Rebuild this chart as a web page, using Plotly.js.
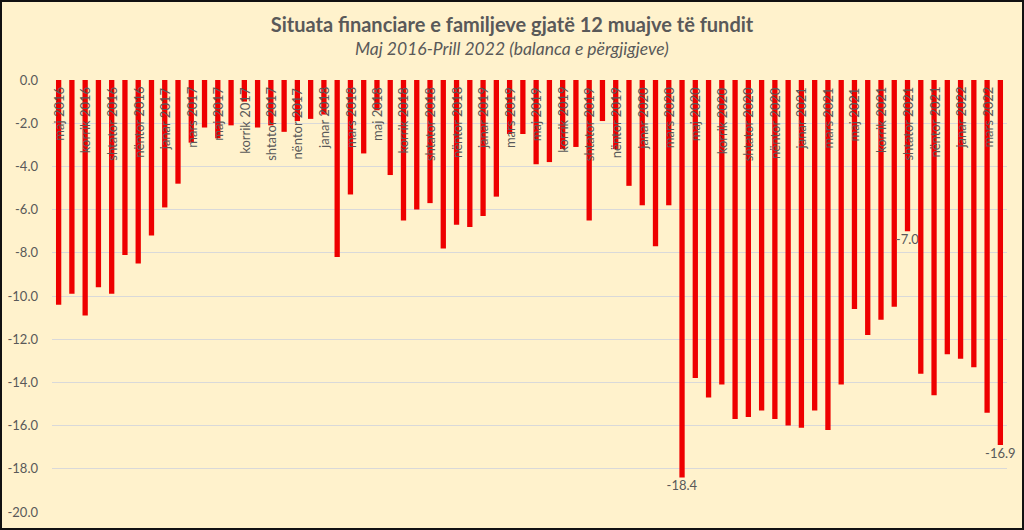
<!DOCTYPE html>
<html>
<head>
<meta charset="utf-8">
<script src="https://cdn.plot.ly/plotly-3.0.1.min.js"></script>
<style>
html,body{margin:0;padding:0;background:#FFF2CC;}
#chart{width:1024px;height:530px;}
</style>
</head>
<body>
<div id="chart"></div>
<script>
// Categories: monthly, May 2016 – April 2022
const categories = [
 "maj 2016","qershor 2016","korrik 2016","gusht 2016","shtator 2016","tetor 2016","nëntor 2016","dhjetor 2016",
 "janar 2017","shkurt 2017","mars 2017","prill 2017","maj 2017","qershor 2017","korrik 2017","gusht 2017","shtator 2017","tetor 2017","nëntor 2017","dhjetor 2017",
 "janar 2018","shkurt 2018","mars 2018","prill 2018","maj 2018","qershor 2018","korrik 2018","gusht 2018","shtator 2018","tetor 2018","nëntor 2018","dhjetor 2018",
 "janar 2019","shkurt 2019","mars 2019","prill 2019","maj 2019","qershor 2019","korrik 2019","gusht 2019","shtator 2019","tetor 2019","nëntor 2019","dhjetor 2019",
 "janar 2020","shkurt 2020","mars 2020","prill 2020","maj 2020","qershor 2020","korrik 2020","gusht 2020","shtator 2020","tetor 2020","nëntor 2020","dhjetor 2020",
 "janar 2021","shkurt 2021","mars 2021","prill 2021","maj 2021","qershor 2021","korrik 2021","gusht 2021","shtator 2021","tetor 2021","nëntor 2021","dhjetor 2021",
 "janar 2022","shkurt 2022","mars 2022","prill 2022"
];

// Balance of responses
const balance = [
 -10.4,-9.9,-10.9,-9.6,-9.9,-8.1,-8.5,-7.2,
 -5.9,-4.8,-2.9,-2.2,-2.7,-2.1,-1.0,-2.2,-2.1,-2.4,-1.9,-1.8,
 -1.6,-8.2,-5.3,-3.4,-1.4,-4.4,-6.5,-6.0,-5.7,-7.8,-6.7,-6.8,
 -6.3,-5.4,-2.5,-2.5,-3.9,-3.8,-3.2,-3.1,-6.5,-1.9,-3.2,-4.9,
 -5.8,-7.7,-5.8,-18.4,-13.8,-14.7,-14.1,-15.7,-15.6,-15.3,-15.7,-16.0,
 -16.1,-15.3,-16.2,-14.1,-10.6,-11.8,-11.1,-10.5,-7.0,-13.6,-14.6,-12.7,
 -12.9,-13.3,-15.4,-16.9
];

// Categories that carry a data label
const labelledMonths = ["prill 2020","shtator 2021","prill 2022"];

// X tick labels (every second month)
const xTickLabels = [
 "maj 2016","korrik 2016","shtator 2016","nëntor 2016",
 "janar 2017","mars 2017","maj 2017","korrik 2017","shtator 2017","nëntor 2017",
 "janar 2018","mars 2018","maj 2018","korrik 2018","shtator 2018","nëntor 2018",
 "janar 2019","mars 2019","maj 2019","korrik 2019","shtator 2019","nëntor 2019",
 "janar 2020","mars 2020","maj 2020","korrik 2020","shtator 2020","nëntor 2020",
 "janar 2021","mars 2021","maj 2021","korrik 2021","shtator 2021","nëntor 2021",
 "janar 2022","mars 2022"
];

// Y tick values and labels
const yTickVals = [0,-2,-4,-6,-8,-10,-12,-14,-16,-18,-20];
const yTickText = ["0.0","-2.0","-4.0","-6.0","-8.0","-10.0","-12.0","-14.0","-16.0","-18.0","-20.0"];

const titleText = "Situata financiare e familjeve gjatë 12 muajve të fundit";
const subtitleText = "Maj 2016-Prill 2022 (balanca e përgjigjeve)";

const barText = categories.map((c, i) => labelledMonths.includes(c) ? balance[i].toFixed(1) : "");

const grey = "#595959";
const fontFam = "Lato, 'Open Sans', sans-serif";

const trace = {
  type: "bar",
  x: categories,
  y: balance,
  marker: {color: "#EE0000"},
  text: barText,
  textposition: "outside",
  constraintext: "none",
  textfont: {family: fontFam, size: 13, color: grey},
  cliponaxis: false,
  hoverinfo: "x+y"
};

// Month labels drawn just below the zero line, rotated, at their category positions
const monthLabelAnns = xTickLabels.map(lbl => ({
  text: lbl,
  xref: "x", yref: "paper",
  x: lbl, y: 1,
  xanchor: "center", yanchor: "top",
  yshift: -5,
  textangle: -90,
  showarrow: false,
  font: {family: fontFam, size: 13, color: grey}
}));

const layout = {
  width: 1024,
  height: 530,
  paper_bgcolor: "#FFF2CC",
  plot_bgcolor: "#FFF2CC",
  margin: {l: 52, r: 17, t: 80, b: 18},
  bargap: 0.6,
  showlegend: false,
  font: {family: fontFam, color: grey},
  title: {
    text: "<b>" + titleText + "</b>",
    font: {family: fontFam, size: 20, color: grey},
    x: 0.5, xref: "container", xanchor: "center",
    y: 1 - 25/530, yref: "container", yanchor: "middle"
  },
  annotations: [{
    text: "<i>" + subtitleText + "</i>",
    xref: "paper", yref: "paper",
    x: (512 - 52) / 955, y: (512 - 49) / 432,
    xanchor: "center", yanchor: "middle",
    showarrow: false,
    font: {family: fontFam, size: 17.5, color: grey}
  }].concat(monthLabelAnns),
  xaxis: {
    type: "category",
    categoryorder: "array",
    categoryarray: categories,
    range: [-0.5, categories.length - 0.5],
    showticklabels: false,
    showgrid: false,
    showline: false,
    zeroline: false,
    ticks: ""
  },
  yaxis: {
    range: [-20, 0],
    tickmode: "array",
    tickvals: yTickVals,
    ticktext: yTickText,
    tickfont: {family: fontFam, size: 13, color: grey},
    gridcolor: "#D9D9D9",
    gridwidth: 1,
    zeroline: false,
    showline: false,
    ticks: "",
    ticklabelstandoff: 13
  },
  shapes: [{
    type: "rect", xref: "paper", yref: "paper", layer: "above",
    x0: (1 - 52) / 955, x1: (1023 - 52) / 955,
    y0: (512 - 529) / 432, y1: (512 - 1) / 432,
    line: {color: "#111111", width: 2}, fillcolor: "rgba(0,0,0,0)"
  }]
};

Plotly.newPlot("chart", [trace], layout, {displayModeBar: false, staticPlot: true});
</script>
</body>
</html>
